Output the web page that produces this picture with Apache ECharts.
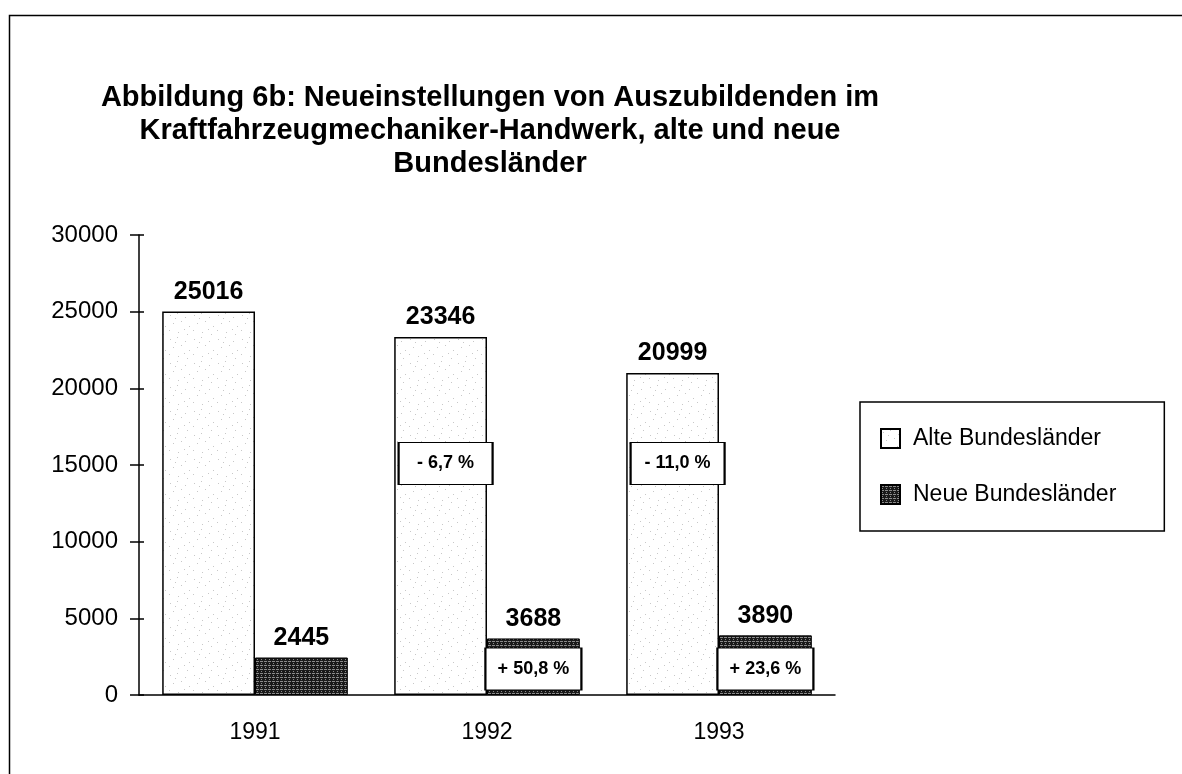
<!DOCTYPE html>
<html>
<head>
<meta charset="utf-8">
<script src="https://cdn.jsdelivr.net/npm/echarts@6/dist/echarts.min.js"></script>
<style>
  html, body { margin: 0; padding: 0; background: #fff; }
  #chart { width: 1182px; height: 774px; }
</style>
</head>
<body>
<div id="chart"></div>
<script>
// Daten
var years = ['1991', '1992', '1993'];
var alteValues = [25016, 23346, 20999];
var neueValues = [2445, 3688, 3890];
var alteChange = ['', '- 6,7 %', '- 11,0 %'];
var neueChange = ['', '+ 50,8 %', '+ 23,6 %'];
var yTicks = [0, 5000, 10000, 15000, 20000, 25000, 30000];

var FONT = 'Liberation Sans, Arial, sans-serif';

// Muster: helle Punkte fuer alte Laender
function dotPattern() {
    var c = document.createElement('canvas');
    c.width = 24; c.height = 24;
    var ctx = c.getContext('2d');
    ctx.fillStyle = '#ffffff';
    ctx.fillRect(0, 0, 24, 24);
    ctx.fillStyle = '#c8c8c8';
    var pts = [[2, 3], [9, 1], [17, 5], [5, 11], [13, 9], [21, 14], [1, 18], [10, 20], [16, 17], [7, 6], [19, 22]];
    pts.forEach(function (p) { ctx.fillRect(p[0], p[1], 1, 1); });
    return c;
}

// Muster: dunkles Gitter fuer neue Laender
function gridPattern() {
    var c = document.createElement('canvas');
    c.width = 4; c.height = 4;
    var ctx = c.getContext('2d');
    ctx.fillStyle = '#1a1a1a';
    ctx.fillRect(0, 0, 4, 4);
    ctx.fillStyle = '#8a8a8a';
    ctx.fillRect(0, 1, 3, 1);
    ctx.fillRect(1, 3, 1, 1);
    return c;
}

var alteFill = { image: dotPattern(), repeat: 'repeat' };
var neueFill = { image: gridPattern(), repeat: 'repeat' };

function changeMarks(labels, yVal, offsetX) {
    var out = [];
    labels.forEach(function (t, i) {
        if (!t) return;
        out.push({ coord: [years[i], yVal], value: t, symbolOffset: [offsetX, 0] });
    });
    return out;
}

function markStyle(w) {
    return {
        symbol: 'rect',
        symbolSize: [w, 42],
        itemStyle: { color: '#fff', borderColor: '#000', borderWidth: 1.5 },
        label: {
            show: true,
            formatter: '{c}',
            color: '#000',
            fontFamily: FONT,
            fontWeight: 'bold',
            fontSize: 18
        },
        emphasis: { disabled: true }
    };
}

var chart = echarts.init(document.getElementById('chart'));

chart.setOption({
    backgroundColor: '#fff',
    animation: false,
    title: {
        text: 'Abbildung 6b: Neueinstellungen von Auszubildenden im\nKraftfahrzeugmechaniker-Handwerk, alte und neue\nBundesländer',
        left: 485,
        top: 76,
        textAlign: 'center',
        textStyle: {
            fontFamily: FONT,
            fontWeight: 'bold',
            fontSize: 29,
            lineHeight: 33,
            color: '#000'
        }
    },
    legend: {
        orient: 'vertical',
        left: 860,
        top: 402,
        padding: [25, 48, 25, 20],
        itemGap: 33,
        itemWidth: 19,
        itemHeight: 19,
        borderColor: '#000',
        borderWidth: 1.5,
        icon: 'rect',
        textStyle: { fontFamily: FONT, fontSize: 23, color: '#000', padding: [0, 0, 0, 8] },
        data: ['Alte Bundesländer', 'Neue Bundesländer']
    },
    grid: { left: 139, right: 347, top: 235, bottom: 79 },
    xAxis: {
        type: 'category',
        data: years,
        axisLine: { lineStyle: { color: '#000', width: 1.5 } },
        axisTick: { length: 8, lineStyle: { color: '#000', width: 1.5 } },
        axisLabel: { color: '#000', fontFamily: FONT, fontSize: 23, margin: 26 }
    },
    yAxis: [{
        type: 'value',
        min: 0,
        max: 30000,
        interval: 5000,
        splitLine: { show: false },
        axisLine: { show: true, lineStyle: { color: '#000', width: 1.5 } },
        axisTick: { show: true, length: 9, lineStyle: { color: '#000', width: 1.5 } },
        axisLabel: {
            color: '#000', fontFamily: FONT, fontSize: 24, margin: 21,
            formatter: function (v) { return yTicks.indexOf(v) >= 0 ? String(v) : ''; }
        }
    }, {
        type: 'value',
        position: 'left',
        min: 0,
        max: 30000,
        interval: 5000,
        splitLine: { show: false },
        axisLine: { show: false },
        axisTick: { show: true, inside: true, length: 5, lineStyle: { color: '#000', width: 1.5 } },
        axisLabel: { show: false }
    }],
    series: [{
        name: 'Alte Bundesländer',
        type: 'bar',
        data: alteValues,
        barGap: 0,
        barCategoryGap: '20%',
        itemStyle: { color: alteFill, borderColor: '#000', borderWidth: 1.5 },
        label: {
            show: true,
            position: 'top',
            distance: 7,
            color: '#000',
            fontFamily: FONT,
            fontWeight: 'bold',
            fontSize: 25
        },
        markPoint: Object.assign({ data: changeMarks(alteChange, 15100, 5) }, markStyle(94))
    }, {
        name: 'Neue Bundesländer',
        type: 'bar',
        data: neueValues,
        itemStyle: { color: neueFill, borderColor: '#000', borderWidth: 1 },
        label: {
            show: true,
            position: 'top',
            distance: 7,
            color: '#000',
            fontFamily: FONT,
            fontWeight: 'bold',
            fontSize: 25
        },
        markPoint: Object.assign({ data: changeMarks(neueChange, 1700, 0) }, markStyle(96))
    }],
    graphic: [{
        type: 'rect',
        left: 7,
        top: 13,
        shape: { width: 1200, height: 800 },
        style: { fill: null, stroke: '#000', lineWidth: 1.5 },
        silent: true,
        z: -1
    }]
});
</script>
</body>
</html>
